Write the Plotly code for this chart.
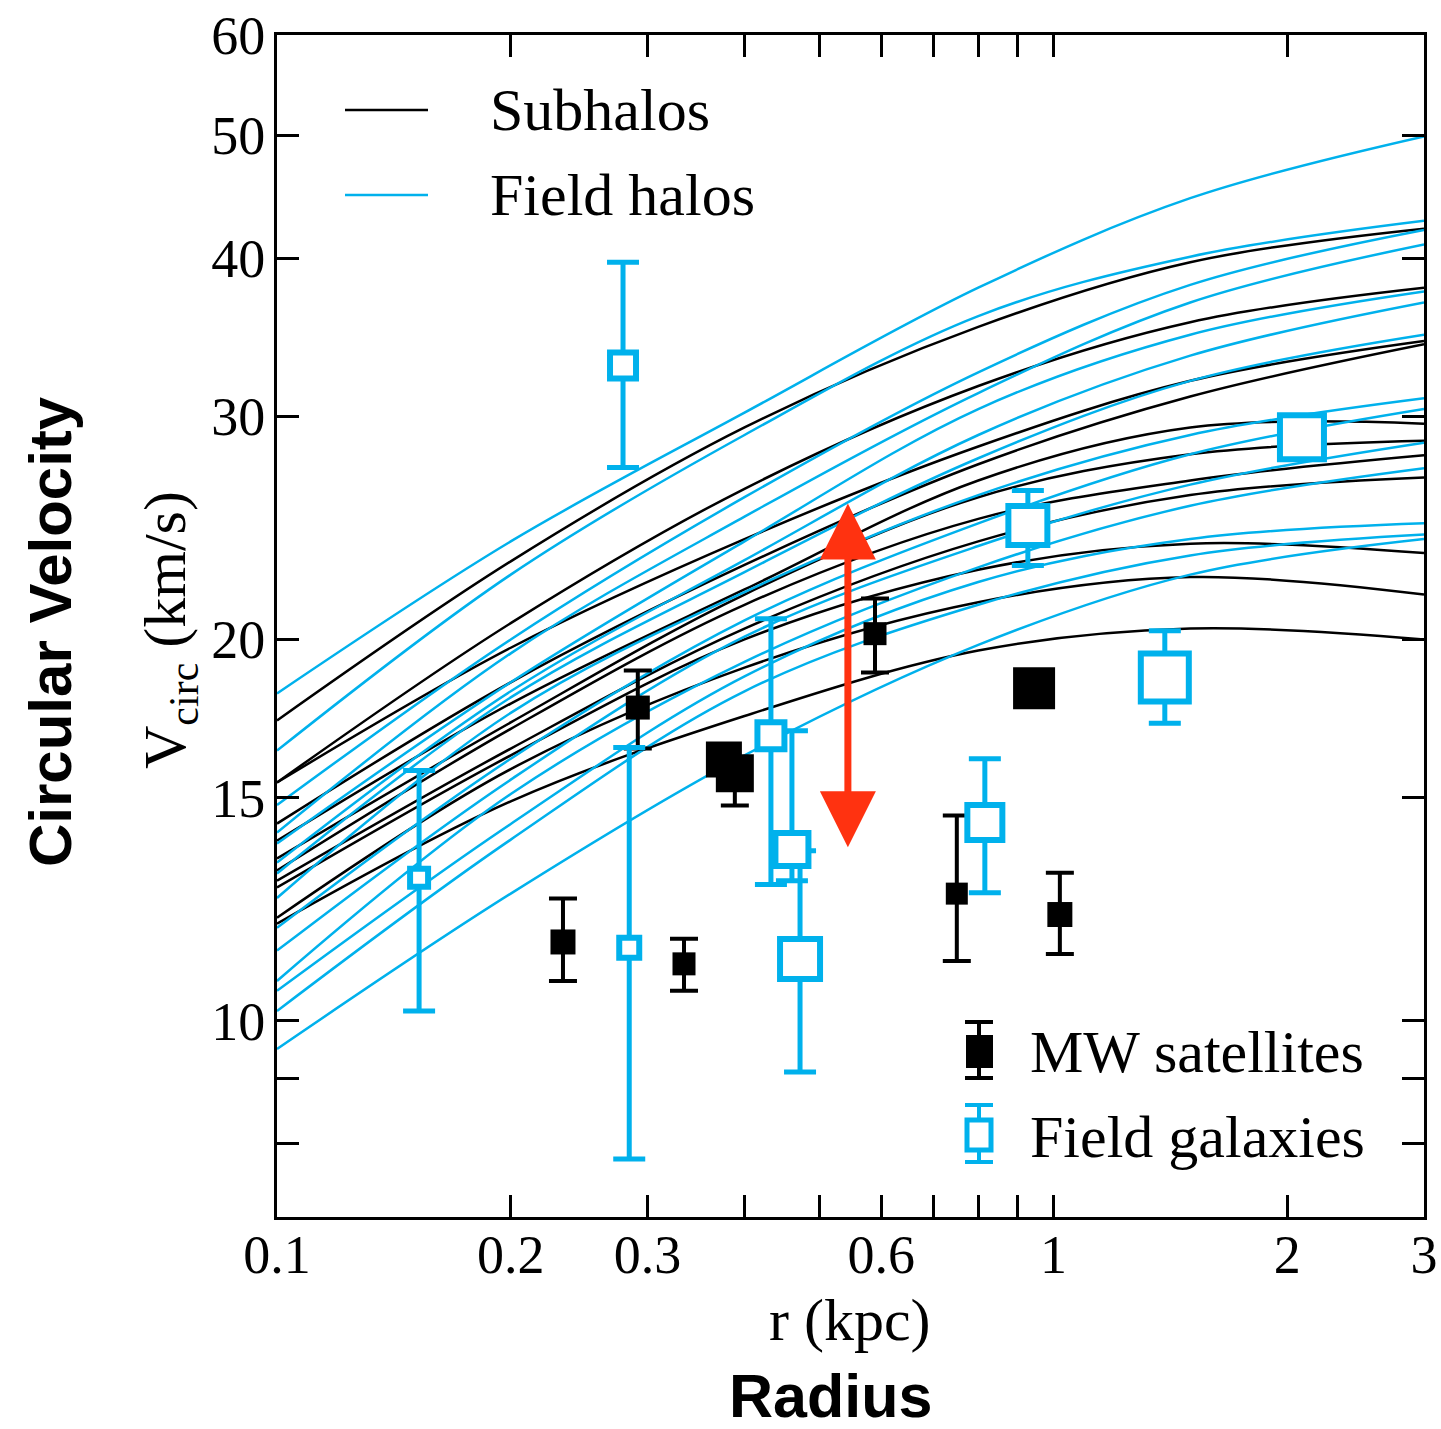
import math
import plotly.graph_objects as go

# ---------------- data ----------------
r_kpc = [0.1, 0.2, 0.4, 0.8, 1.5, 3.0]

subhalo_vcirc = [
    [17.26, 23.05, 29.4, 35.3, 39.7, 42.2],
    [15.42, 20.6, 26.3, 31.7, 35.6, 37.9],
    [15.42, 19.7, 24.0, 28.4, 32.0, 34.4],
    [14.31, 18.5, 22.9, 27.5, 31.1, 34.2],
    [13.87, 17.8, 21.9, 26.7, 29.4, 29.6],
    [13.43, 17.2, 21.7, 25.9, 28.0, 28.7],
    [13.14, 17.0, 21.3, 24.9, 26.7, 27.95],
    [12.90, 16.4, 20.4, 23.9, 26.0, 26.85],
    [12.74, 16.2, 20.0, 22.7, 23.8, 23.4],
    [12.06, 15.8, 19.0, 21.4, 22.4, 21.7],
    [11.93, 14.9, 17.4, 19.6, 20.4, 20.0],
]

field_halo_vcirc = [
    [18.13, 23.9, 30.2, 37.9, 44.6, 49.9],
    [16.34, 22.5, 29.0, 36.0, 40.1, 42.8],
    [14.8, 20.0, 25.9, 32.5, 38.1, 42.1],
    [14.08, 19.5, 25.0, 31.3, 36.9, 41.0],
    [13.80, 18.5, 23.9, 30.4, 34.8, 37.65],
    [13.33, 18.2, 23.1, 29.0, 33.5, 36.9],
    [13.07, 18.0, 22.6, 27.8, 32.0, 34.8],
    [12.5, 17.5, 21.8, 26.0, 29.0, 31.0],
    [11.84, 16.1, 20.7, 24.7, 28.0, 30.4],
    [11.36, 15.5, 20.1, 23.7, 26.5, 28.6],
    [10.75, 15.1, 19.2, 22.8, 25.5, 27.3],
    [10.56, 14.3, 18.7, 22.2, 24.0, 24.7],
    [10.18, 13.9, 18.2, 21.3, 23.3, 24.2],
    [9.5, 12.6, 16.2, 19.8, 22.5, 24.0],
]

mw_r = [0.2335, 0.2915, 0.3343, 0.3763, 0.3887, 0.589, 0.7507, 1.019, 0.944]
mw_v = [11.54, 17.67, 11.09, 16.08, 15.68, 20.21, 12.60, 12.13, 18.30]
mw_v_high = [12.49, 18.90, 11.61, 16.08, 15.68, 21.54, 14.52, 13.09, 18.30]
mw_v_low = [10.75, 16.40, 10.56, 16.08, 14.79, 18.83, 11.15, 11.29, 18.30]

fg_r = [0.1524, 0.279, 0.2842, 0.4326, 0.4604, 0.4716, 0.8158, 0.9268, 1.391, 2.089]
fg_v = [12.97, 32.91, 11.42, 16.79, 13.65, 11.19, 14.34, 24.60, 18.66, 28.88]
fg_v_high = [15.76, 39.69, 16.43, 20.77, 16.94, 13.62, 16.10, 26.22, 20.32, 28.88]
fg_v_low = [10.18, 27.34, 7.78, 12.81, 12.90, 9.11, 12.62, 22.88, 17.17, 28.88]

arrow_r = 0.5435
arrow_v_top = 25.6
arrow_v_bottom = 13.67

x_tick_vals = [0.1, 0.2, 0.3, 0.4, 0.5, 0.6, 0.7, 0.8, 0.9, 1, 2, 3]
x_tick_text = ["0.1", "0.2", "0.3", "", "", "0.6", "", "", "", "1", "2", "3"]
y_tick_vals = [8, 9, 10, 15, 20, 30, 40, 50, 60]
y_tick_text = ["", "", "10", "15", "20", "30", "40", "50", "60"]

# ---------------- styles ----------------
BLUE = "#00B1EC"
BLACK = "#000000"
RED = "#FF3210"
SERIF = "Liberation Serif, Times New Roman, serif"
SANS = "Liberation Sans, Arial, sans-serif"

mw_sizes = [25, 24, 23, 36, 38, 23, 22, 25, 42]
fg_sizes = [18, 26, 20, 27, 33, 40, 35, 39, 48, 44]

W, H = 1441, 1429
ML, MR, MT, MB = 277, 17, 35, 212
PW, PH = W - ML - MR, H - MT - MB


def pxx(px):
    return (px - ML) / PW


def pxy(py):
    return (H - MB - py) / PH


fig = go.Figure()

for v in subhalo_vcirc:
    fig.add_trace(go.Scatter(x=r_kpc, y=v, mode="lines",
                             line=dict(color=BLACK, width=2.5, shape="spline"),
                             showlegend=False, hoverinfo="skip"))
for v in field_halo_vcirc:
    fig.add_trace(go.Scatter(x=r_kpc, y=v, mode="lines",
                             line=dict(color=BLUE, width=2.5, shape="spline"),
                             showlegend=False, hoverinfo="skip"))

fig.add_trace(go.Scatter(
    x=mw_r, y=mw_v, mode="markers", name="MW satellites", showlegend=False,
    marker=dict(symbol="square", size=mw_sizes, color=BLACK, opacity=1,
                line=dict(width=0)),
    error_y=dict(type="data", symmetric=False,
                 array=[h - v for h, v in zip(mw_v_high, mw_v)],
                 arrayminus=[v - l for v, l in zip(mw_v, mw_v_low)],
                 color=BLACK, thickness=4, width=14),
))

fig.add_trace(go.Scatter(
    x=fg_r, y=fg_v, mode="markers", name="Field galaxies", showlegend=False,
    marker=dict(symbol="square", size=fg_sizes, color="white", opacity=1,
                line=dict(width=6, color=BLUE)),
    error_y=dict(type="data", symmetric=False,
                 array=[h - v for h, v in zip(fg_v_high, fg_v)],
                 arrayminus=[v - l for v, l in zip(fg_v, fg_v_low)],
                 color=BLUE, thickness=5, width=16),
))

annotations = []
# red double-headed arrow
annotations.append(dict(
    x=math.log10(arrow_r), y=math.log10(arrow_v_top),
    ax=math.log10(arrow_r), ay=math.log10(arrow_v_bottom),
    xref="x", yref="y", axref="x", ayref="y", text="",
    showarrow=True, arrowhead=2, startarrowhead=2, arrowside="end+start",
    arrowwidth=7, arrowsize=1.6, startarrowsize=1.6, arrowcolor=RED,
    standoff=0, startstandoff=0,
))

# legend texts
for txt, px, py in [("Subhalos", 488, 110), ("Field halos", 488, 195),
                    ("MW satellites", 1028, 1052), ("Field galaxies", 1028, 1137)]:
    annotations.append(dict(text=txt, x=pxx(px), y=pxy(py), xref="paper", yref="paper",
                            xanchor="left", yanchor="middle", showarrow=False,
                            font=dict(family=SERIF, size=60, color=BLACK)))

# axis titles
annotations.append(dict(text="r (kpc)", x=pxx(850), y=pxy(1320), xref="paper", yref="paper",
                        xanchor="center", yanchor="middle", showarrow=False,
                        font=dict(family=SERIF, size=60, color=BLACK)))
annotations.append(dict(text="V<sub>circ</sub> (km/s)", x=pxx(170), y=pxy(630),
                        xref="paper", yref="paper", xanchor="center", yanchor="middle",
                        textangle=-90, showarrow=False,
                        font=dict(family=SERIF, size=60, color=BLACK)))
annotations.append(dict(text="<b>Circular Velocity</b>", x=pxx(50), y=pxy(632),
                        xref="paper", yref="paper", xanchor="center", yanchor="middle",
                        textangle=-90, showarrow=False,
                        font=dict(family=SANS, size=60, color=BLACK)))
annotations.append(dict(text="<b>Radius</b>", x=pxx(830), y=pxy(1396),
                        xref="paper", yref="paper", xanchor="center", yanchor="middle",
                        showarrow=False, font=dict(family=SANS, size=61, color=BLACK)))

shapes = []
# legend line samples
shapes.append(dict(type="line", xref="paper", yref="paper", x0=pxx(345), x1=pxx(428),
                   y0=pxy(110), y1=pxy(110), line=dict(color=BLACK, width=2.5)))
shapes.append(dict(type="line", xref="paper", yref="paper", x0=pxx(345), x1=pxx(428),
                   y0=pxy(195), y1=pxy(195), line=dict(color=BLUE, width=2.5)))
# MW satellites legend icon
shapes.append(dict(type="line", xref="paper", yref="paper", x0=pxx(979), x1=pxx(979),
                   y0=pxy(1022), y1=pxy(1078), line=dict(color=BLACK, width=4)))
for yy in (1022, 1078):
    shapes.append(dict(type="line", xref="paper", yref="paper", x0=pxx(965), x1=pxx(993),
                       y0=pxy(yy), y1=pxy(yy), line=dict(color=BLACK, width=4)))
shapes.append(dict(type="rect", xref="paper", yref="paper", x0=pxx(966), x1=pxx(993),
                   y0=pxy(1068), y1=pxy(1035), fillcolor=BLACK, line=dict(width=0)))
# Field galaxies legend icon
shapes.append(dict(type="line", xref="paper", yref="paper", x0=pxx(979), x1=pxx(979),
                   y0=pxy(1105), y1=pxy(1162), line=dict(color=BLUE, width=4)))
for yy in (1105, 1162):
    shapes.append(dict(type="line", xref="paper", yref="paper", x0=pxx(965), x1=pxx(993),
                       y0=pxy(yy), y1=pxy(yy), line=dict(color=BLUE, width=4)))
shapes.append(dict(type="rect", xref="paper", yref="paper", x0=pxx(967), x1=pxx(991),
                   y0=pxy(1150), y1=pxy(1120), fillcolor="white",
                   line=dict(color=BLUE, width=5)))

axis_common = dict(type="log", showline=True, linewidth=3, linecolor=BLACK,
                   mirror="allticks", ticks="inside", ticklen=22, tickwidth=2.5,
                   tickcolor=BLACK, showgrid=False, zeroline=False, automargin=False,
                   tickfont=dict(family=SERIF, size=54, color=BLACK))

fig.update_layout(
    width=W, height=H,
    margin=dict(l=ML, r=MR, t=MT, b=MB, pad=0, autoexpand=False),
    paper_bgcolor="white", plot_bgcolor="white",
    xaxis=dict(range=[math.log10(0.1), math.log10(3)], tickmode="array",
               tickvals=x_tick_vals, ticktext=x_tick_text, ticklabelstandoff=-12,
               **axis_common),
    yaxis=dict(range=[math.log10(7), math.log10(60)], tickmode="array",
               tickvals=y_tick_vals, ticktext=y_tick_text, ticklabelstandoff=-2,
               **axis_common),
    annotations=annotations, shapes=shapes, showlegend=False,
)

fig.write_html("out.html")
